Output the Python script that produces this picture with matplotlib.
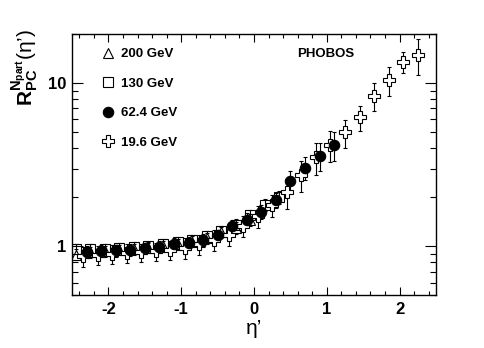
import matplotlib
matplotlib.use("Agg")
import matplotlib.pyplot as plt
from matplotlib.ticker import MultipleLocator, LogLocator, FixedLocator, FixedFormatter, NullFormatter

plt.rcParams['font.family'] = ['Liberation Sans', 'DejaVu Sans']
plt.rcParams['font.weight'] = 'bold'
plt.rcParams['axes.unicode_minus'] = False
plt.rcParams['mathtext.fontset'] = 'custom'
plt.rcParams['mathtext.rm'] = 'Liberation Sans'
plt.rcParams['mathtext.bf'] = 'Liberation Sans:bold'
plt.rcParams['mathtext.it'] = 'Liberation Sans:italic'

# ---- data ----
eta_200 = [-2.45, -2.25, -2.05, -1.85, -1.65, -1.45, -1.25, -1.05, -0.85, -0.65, -0.45, -0.25, -0.05]
val_200 = [0.89, 0.92, 0.93, 0.95, 0.96, 0.98, 1.00, 1.03, 1.07, 1.12, 1.22, 1.30, 1.45]
err_200 = [0.07, 0.07, 0.07, 0.07, 0.07, 0.07, 0.08, 0.08, 0.08, 0.09, 0.10, 0.11, 0.12]

eta_130 = [-2.45, -2.25, -2.05, -1.85, -1.65, -1.45, -1.25, -1.05, -0.85, -0.65, -0.45, -0.25, -0.05, 0.15, 0.35]
val_130 = [0.96, 0.97, 0.97, 0.98, 0.99, 1.00, 1.03, 1.06, 1.10, 1.15, 1.24, 1.36, 1.55, 1.80, 2.00]
err_130 = [0.07, 0.07, 0.07, 0.07, 0.07, 0.07, 0.08, 0.08, 0.08, 0.09, 0.10, 0.11, 0.13, 0.15, 0.17]

eta_62 = [-2.3, -2.1, -1.9, -1.7, -1.5, -1.3, -1.1, -0.9, -0.7, -0.5, -0.3, -0.1, 0.1, 0.3, 0.5, 0.7, 0.9, 1.1]
val_62 = [0.923, 0.936, 0.945, 0.954, 0.972, 0.996, 1.04, 1.045, 1.093, 1.167, 1.33, 1.46, 1.63, 1.91, 2.52, 3.03, 3.59, 4.16]
err_62 = [0.08, 0.08, 0.08, 0.08, 0.08, 0.08, 0.09, 0.09, 0.10, 0.10, 0.12, 0.14, 0.16, 0.20, 0.39, 0.48, 0.70, 0.83]

eta_19 = [-2.35, -2.15, -1.95, -1.75, -1.55, -1.35, -1.15, -0.95, -0.75, -0.55, -0.35, -0.15,
          0.05, 0.25, 0.45, 0.65, 0.85, 1.05, 1.25, 1.45, 1.65, 1.85, 2.05, 2.25]
val_19 = [0.87, 0.89, 0.90, 0.91, 0.92, 0.93, 0.95, 0.98, 1.03, 1.10, 1.18, 1.34,
          1.53, 1.79, 2.14, 2.75, 3.51, 4.20, 4.99, 6.17, 8.36, 10.5, 13.55, 14.9]
err_19 = [0.12, 0.12, 0.12, 0.12, 0.12, 0.12, 0.13, 0.14, 0.15, 0.16, 0.18, 0.20,
          0.23, 0.28, 0.45, 0.60, 0.77, 0.90, 1.00, 1.10, 1.65, 2.10, 2.00, 3.70]

labels = ['200 GeV', '130 GeV', '62.4 GeV', '19.6 GeV']
x_ticks = [-2, -1, 0, 1, 2]
y_ticks = [1, 10]
y_ticklabels = ['1', '10']

# ---- figure ----
fig = plt.figure(figsize=(4.85, 3.48), dpi=100)
ax = fig.add_axes([0.1485, 0.151, 0.7505, 0.751])

common = dict(linestyle='none', ecolor='black', elinewidth=0.8, capsize=1.5, capthick=0.8)
h1 = ax.errorbar(eta_200, val_200, yerr=err_200, marker='^', ms=7.5, mfc='white', mec='black', mew=0.8, **common)
h2 = ax.errorbar(eta_130, val_130, yerr=err_130, marker='s', ms=7.5, mfc='none', mec='black', mew=0.8, **common)
h4 = ax.errorbar(eta_19, val_19, yerr=err_19, marker='P', ms=8, mfc='white', mec='black', mew=0.8, **common)
h3 = ax.errorbar(eta_62, val_62, yerr=err_62, marker='o', ms=7.5, mfc='black', mec='black', mew=0.8, **common)

ax.set_yscale('log')
ax.set_xlim(-2.5, 2.5)
ax.set_ylim(0.5, 20)

ax.xaxis.set_major_locator(FixedLocator(x_ticks))
ax.xaxis.set_minor_locator(MultipleLocator(0.2))
ax.yaxis.set_major_locator(FixedLocator(y_ticks))
ax.yaxis.set_major_formatter(FixedFormatter(y_ticklabels))
ax.yaxis.set_minor_locator(LogLocator(base=10, subs=[2, 3, 4, 5, 6, 7, 8, 9]))
ax.yaxis.set_minor_formatter(NullFormatter())

ax.tick_params(which='both', direction='in', top=True, right=True, width=0.8, labelsize=12)
ax.tick_params(axis='x', which='major', length=6, pad=5)
ax.tick_params(axis='x', which='minor', length=3)
ax.tick_params(axis='y', which='major', length=8, pad=4)
ax.tick_params(axis='y', which='minor', length=4)
for lab in ax.get_xticklabels() + ax.get_yticklabels():
    lab.set_fontweight('bold')
for sp in ax.spines.values():
    sp.set_linewidth(1.0)

ax.set_xlabel("η\u2019", fontsize=15, fontweight='normal', va='top')
ax.xaxis.set_label_coords(0.5, -0.09)

fig.text(25 / 485, 1 - 29 / 348,
         r"$\mathbf{R}^{\mathbf{N}_{\mathbf{part}}}_{\mathbf{PC}}$(η’)",
         fontsize=15, fontweight='normal', rotation=90, ha='center', va='top')

ax.legend([h1.lines[0], h2.lines[0], h3.lines[0], h4.lines[0]], labels,
          loc='upper left', bbox_to_anchor=(0.081, 0.946), frameon=False,
          handlelength=1.0, handletextpad=0.5, labelspacing=1.3,
          borderpad=0, borderaxespad=0, prop={'weight': 'bold', 'size': 9.5})

ax.text(0.698, 0.924, 'PHOBOS', transform=ax.transAxes, ha='center', va='center',
        fontsize=9.5, fontweight='bold')

fig.savefig('out.png', dpi=100)
